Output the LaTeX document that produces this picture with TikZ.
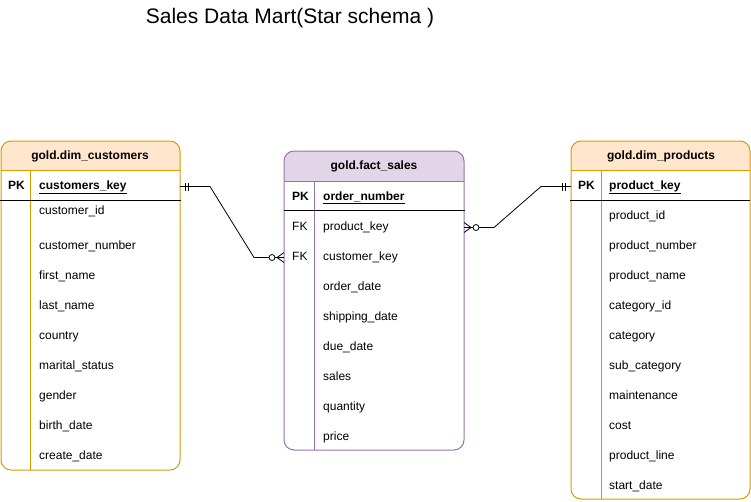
\documentclass[tikz,border=0pt]{standalone}
\usepackage{fontspec}
\setmainfont{Liberation Sans}
\usetikzlibrary{calc}
\definecolor{ob}{HTML}{D79B00}
\definecolor{of}{HTML}{FFE6CC}
\definecolor{pb}{HTML}{9673A6}
\definecolor{pf}{HTML}{E1D5E7}
\tikzset{
  tbl/.style={rounded corners=10pt, inner sep=0pt, outer sep=0pt, anchor=north west, line width=1pt},
  txt/.style={anchor=west, inner sep=0pt, yshift=-1.5pt, font=\fontsize{12}{14}\selectfont, text height=9pt, text depth=3pt},
  hdr/.style={inner sep=0pt, yshift=-1pt, font=\bfseries\fontsize{12}{14}\selectfont, text height=9pt, text depth=3pt},
  pkl/.style={txt, font=\bfseries\fontsize{12}{14}\selectfont},
  sep/.style={line width=1pt},
  rel/.style={line width=0.8pt},
}
\begin{document}
\begin{tikzpicture}[x=1pt,y=-1pt]
\useasboundingbox (0,0) rectangle (751,501);
\node[inner sep=0pt, font=\fontsize{21}{25}\selectfont] (title) at (290,18) {Sales Data Mart(Star schema )};

% ---------- customers ----------
\begin{scope}
\clip (0,140) rectangle (181,170);
\fill[of, rounded corners=10pt] (1,141) rectangle (180,470);
\end{scope}
\node[tbl, draw=ob, minimum width=179pt, minimum height=329pt] (cust) at (1,141) {};
\node[hdr] (cust-h) at (90,155) {gold.dim\_customers};
\draw[sep, ob] (1,170) -- (180,170);
\draw[sep, ob] (30,170) -- (30,470);
\draw[sep, black] (0,200) -- (181,200);
\node[pkl] (cust-pk) at (8,185) {PK};
\node[txt] (cust-key) at (39,185) {\textbf{\underline{customers\_key}}};
\node[txt] (cust-r1) at (39,210) {customer\_id};
\node[txt] (cust-r2) at (39,245) {customer\_number};
\node[txt] (cust-r3) at (39,275) {first\_name};
\node[txt] (cust-r4) at (39,305) {last\_name};
\node[txt] (cust-r5) at (39,335) {country};
\node[txt] (cust-r6) at (39,365) {marital\_status};
\node[txt] (cust-r7) at (39,395) {gender};
\node[txt] (cust-r8) at (39,425) {birth\_date};
\node[txt] (cust-r9) at (39,455) {create\_date};

% ---------- fact sales ----------
\begin{scope}
\clip (283,150) rectangle (465,181);
\fill[pf, rounded corners=10pt] (284,151) rectangle (464,450);
\end{scope}
\node[tbl, draw=pb, minimum width=180pt, minimum height=299pt] (fs) at (284,151) {};
\node[hdr] (fs-h) at (374,165) {gold.fact\_sales};
\draw[sep, pb] (284,181) -- (464,181);
\draw[sep, pb] (314,181) -- (314,450);
\draw[sep, black] (284,210.5) -- (465,210.5);
\node[pkl] (fs-pk) at (292,195.5) {PK};
\node[txt] (fs-key) at (323,195.5) {\textbf{\underline{order\_number}}};
\node[txt] (fs-fk1) at (292,226) {FK};
\node[txt] (fs-r1) at (323,226) {product\_key};
\node[txt] (fs-fk2) at (292,256) {FK};
\node[txt] (fs-r2) at (323,256) {customer\_key};
\node[txt] (fs-r3) at (323,286) {order\_date};
\node[txt] (fs-r4) at (323,316) {shipping\_date};
\node[txt] (fs-r5) at (323,346) {due\_date};
\node[txt] (fs-r6) at (323,376) {sales};
\node[txt] (fs-r7) at (323,406) {quantity};
\node[txt] (fs-r8) at (323,436) {price};

% ---------- products ----------
\begin{scope}
\clip (570,140) rectangle (751,170);
\fill[of, rounded corners=10pt] (571,141) rectangle (750,499);
\end{scope}
\node[tbl, draw=ob, minimum width=179pt, minimum height=358pt] (prod) at (571,141) {};
\node[hdr] (prod-h) at (661,155) {gold.dim\_products};
\draw[sep, ob] (571,170) -- (750,170);
\draw[sep, ob] (601,170) -- (601,499);
\draw[sep, black] (570,200) -- (750,200);
\node[pkl] (prod-pk) at (578,185) {PK};
\node[txt] (prod-key) at (609,185) {\textbf{\underline{product\_key}}};
\node[txt] (prod-r1) at (609,215) {product\_id};
\node[txt] (prod-r2) at (609,245) {product\_number};
\node[txt] (prod-r3) at (609,275) {product\_name};
\node[txt] (prod-r4) at (609,305) {category\_id};
\node[txt] (prod-r5) at (609,335) {category};
\node[txt] (prod-r6) at (609,365) {sub\_category};
\node[txt] (prod-r7) at (609,395) {maintenance};
\node[txt] (prod-r8) at (609,425) {cost};
\node[txt] (prod-r9) at (609,455) {product\_line};
\node[txt] (prod-r10) at (609,485) {start\_date};

% ---------- relations ----------
\coordinate (a1) at (cust.east |- cust-pk);
\coordinate (a2) at (fs.west |- fs-fk2);
\draw[rel] (a1) -- ++(30,0) -- ($(a2)+(-30,0)$) -- (a2);
\draw[rel] ($(a1)+(5,-4)$) -- ($(a1)+(5,4)$);
\draw[rel] ($(a1)+(8,-4)$) -- ($(a1)+(8,4)$);
\draw[rel, fill=white] ($(a2)+(-12,0)$) circle (3pt);
\draw[rel] ($(a2)+(-7,0)$) -- ($(a2)+(0,-5)$);
\draw[rel] ($(a2)+(-7,0)$) -- ($(a2)+(0,5)$);

\coordinate (b1) at (fs.east |- fs-fk1);
\coordinate (b2) at (prod.west |- prod-pk);
\draw[rel] (b1) -- ++(30,0) -- ($(b2)+(-30,0)$) -- (b2);
\draw[rel] ($(b2)+(-6,-4)$) -- ($(b2)+(-6,4)$);
\draw[rel] ($(b2)+(-9,-4)$) -- ($(b2)+(-9,4)$);
\draw[rel, fill=white] ($(b1)+(12,0)$) circle (3pt);
\draw[rel] ($(b1)+(7,0)$) -- ($(b1)+(0,-5)$);
\draw[rel] ($(b1)+(7,0)$) -- ($(b1)+(0,5)$);
\end{tikzpicture}
\end{document}
